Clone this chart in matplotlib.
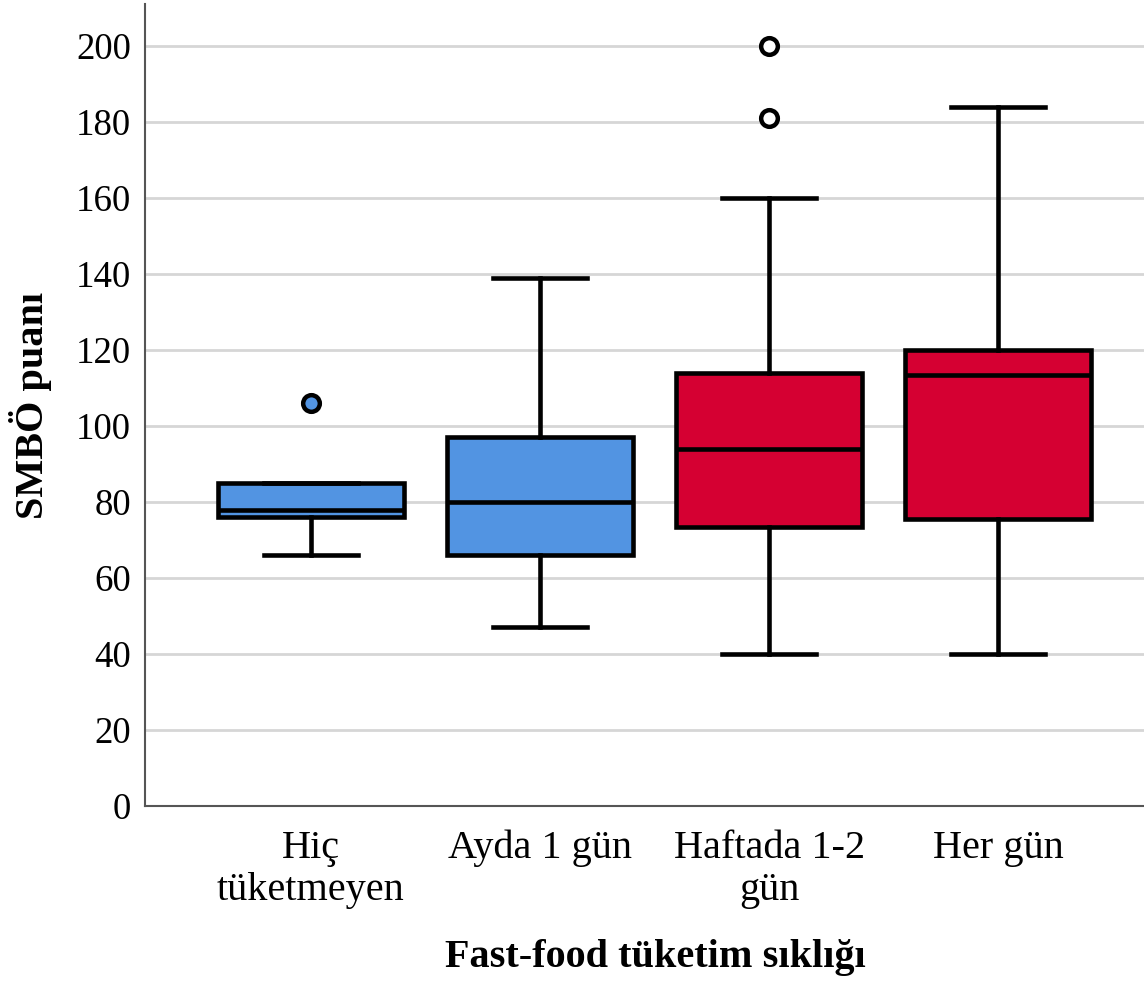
import matplotlib.pyplot as plt

# SMBÖ puanı by fast-food frequency
categories = ["Hiç\ntüketmeyen", "Ayda 1 gün", "Haftada 1-2\ngün", "Her gün"]
q1 = [76, 66, 73.5, 75.5]
med = [78, 80, 94, 113.5]
q3 = [85, 97, 114, 120]
whislo = [66, 47, 40, 40]
whishi = [85, 139, 160, 184]
fliers = [[106], [], [181, 200], []]
box_colors = ["#5294e2", "#5294e2", "#d50032", "#d50032"]
flier_fill = ["#5294e2", "white", "white", "white"]

plt.rcParams['font.family'] = ['Liberation Serif', 'DejaVu Serif']

fig = plt.figure(figsize=(11.44, 9.83), dpi=100)
ax = fig.add_axes([0.1267, 0.18, 0.8733, 0.8159])

stats = []
for i in range(len(categories)):
    stats.append({
        'q1': q1[i], 'med': med[i], 'q3': q3[i],
        'whislo': whislo[i], 'whishi': whishi[i], 'fliers': [],
    })

lw = 3.3
bp = ax.bxp(stats, positions=range(len(categories)), widths=0.815,
            patch_artist=True, showfliers=False, manage_ticks=False,
            boxprops=dict(edgecolor='black', linewidth=lw),
            medianprops=dict(color='black', linewidth=lw),
            whiskerprops=dict(color='black', linewidth=lw),
            capprops=dict(color='black', linewidth=lw),
            capwidths=0.41, zorder=3)
for patch, c in zip(bp['boxes'], box_colors):
    patch.set_facecolor(c)

# outliers
for i, fl in enumerate(fliers):
    if fl:
        ax.plot([i] * len(fl), fl, 'o', ms=12, mfc=flier_fill[i], mec='black',
                mew=3.2, zorder=4)

ax.set_xlim(-0.725, 3.637)
ax.set_ylim(0, 211)
ax.set_yticks(range(0, 201, 20))
ax.set_xticks(range(len(categories)))
ax.set_xticklabels(categories, fontsize=29, linespacing=1.18)
ax.tick_params(axis='y', labelsize=26.5, length=0, pad=10)
ax.tick_params(axis='x', length=0, pad=17)

ax.yaxis.grid(True, color='#d6d6d6', linewidth=2)
ax.set_axisbelow(True)
for s in ['top', 'right']:
    ax.spines[s].set_visible(False)
for s in ['left', 'bottom']:
    ax.spines[s].set_color('#555555')
    ax.spines[s].set_linewidth(1.5)

ax.set_ylabel("SMBÖ puanı", fontsize=29, fontweight='bold', labelpad=17)
ax.set_xlabel("Fast-food tüketim sıklığı", fontsize=29, fontweight='bold', labelpad=22)
ax.xaxis.label.set_x(0.511)

fig.savefig("out.png", dpi=100)
